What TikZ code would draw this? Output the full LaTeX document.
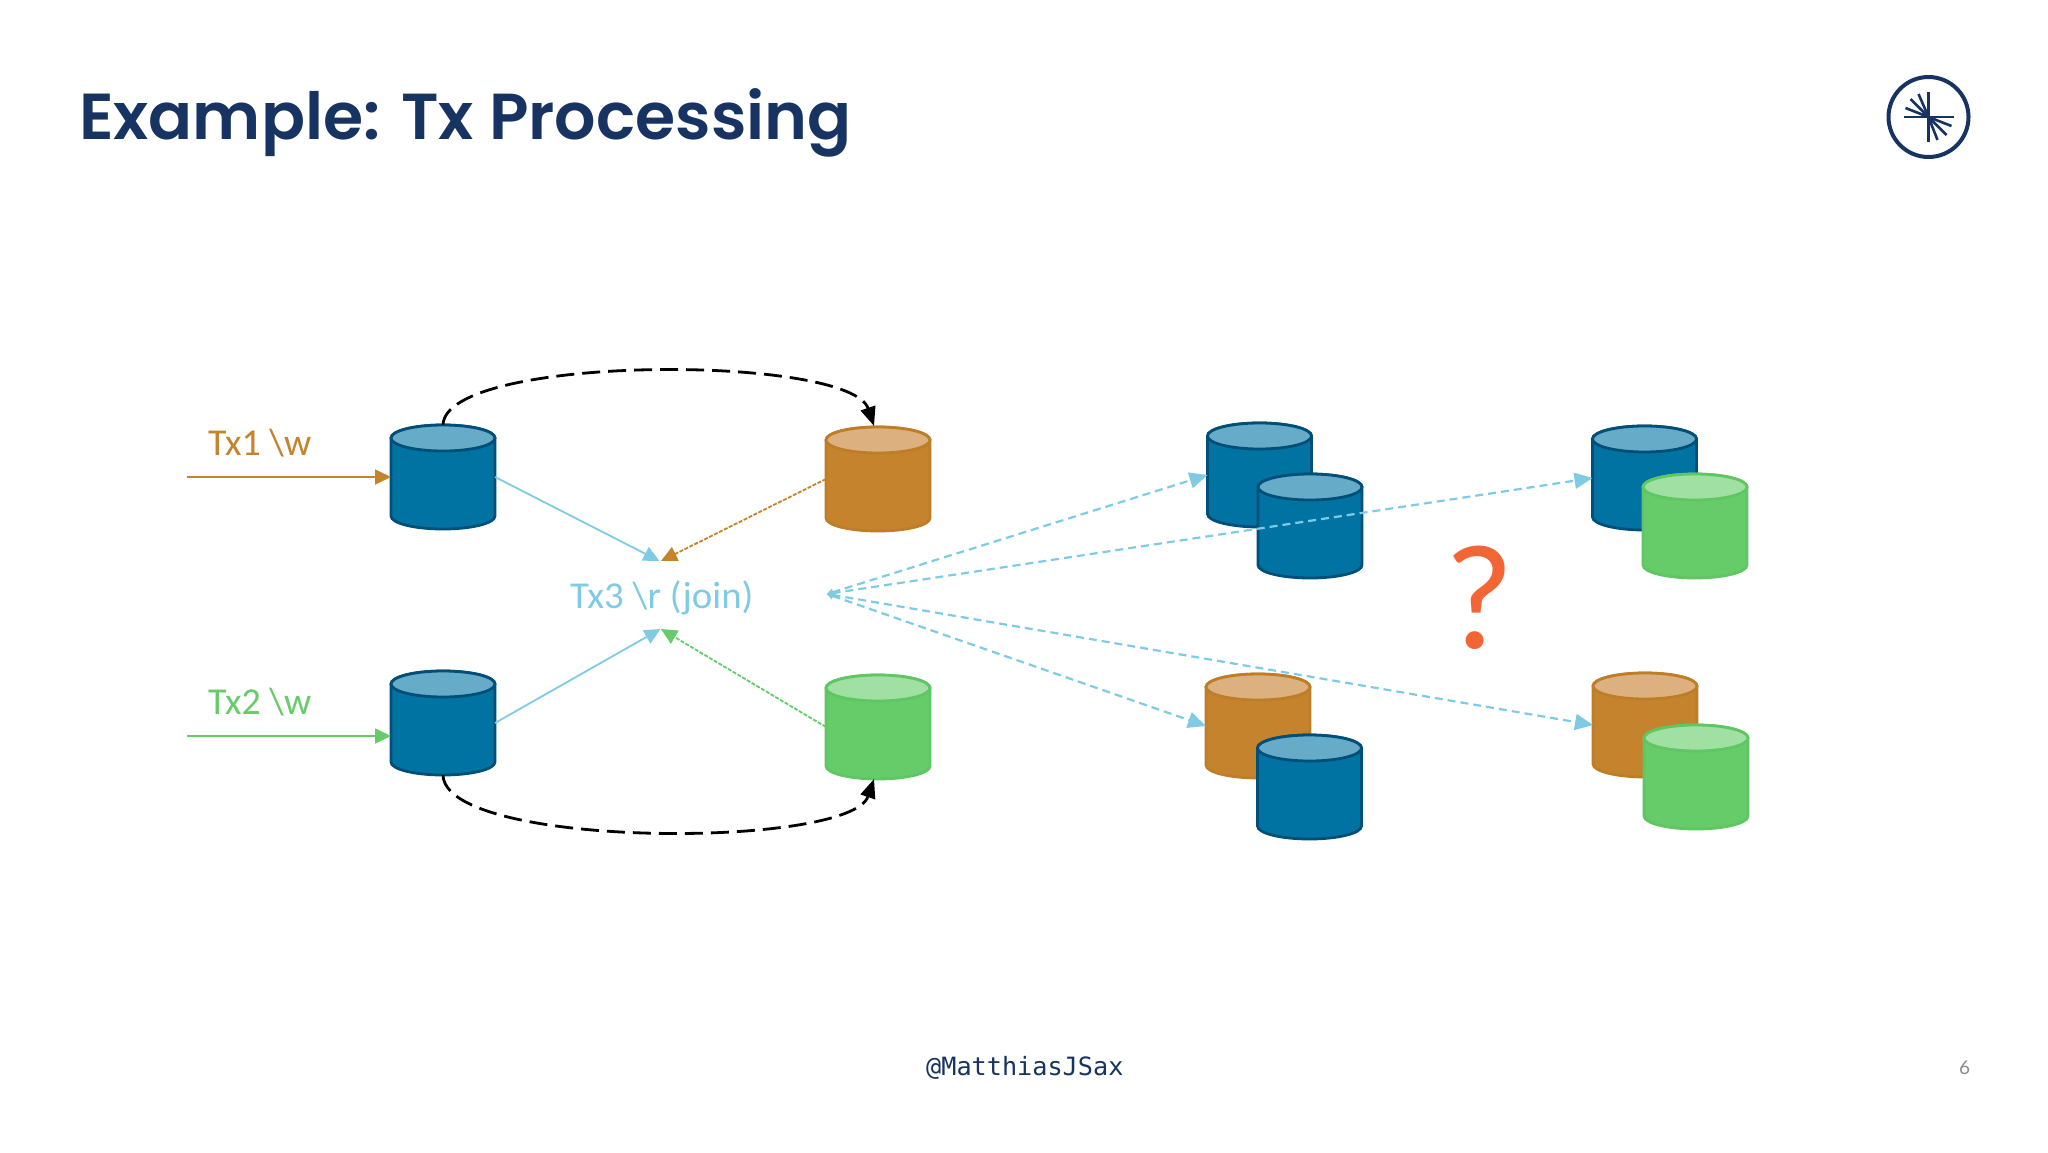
\documentclass[tikz,border=0pt]{standalone}
\usepackage{fontspec}
\usetikzlibrary{arrows.meta}
\newfontfamily\carlitofont{Carlito}
\newfontfamily\titlefont{Poppins SemiBold}
\newfontfamily\footfont{DejaVu Sans Mono}
\newfontfamily\pagefont{Lato}
\definecolor{navy}{HTML}{173361}
\definecolor{cblue}{HTML}{0073A3}
\definecolor{cblueline}{HTML}{004F78}
\definecolor{cbluetop}{HTML}{66ABC8}
\definecolor{corange}{HTML}{C4832C}
\definecolor{corangeline}{HTML}{BE7E28}
\definecolor{corangetop}{HTML}{DDB07F}
\definecolor{cgreen}{HTML}{66CC6A}
\definecolor{cgreenline}{HTML}{60C664}
\definecolor{cgreentop}{HTML}{A0E0A2}
\definecolor{lblue}{HTML}{7FCBE3}
\definecolor{qred}{HTML}{F26535}
\tikzset{
  pics/cyl/.style n args={3}{code={
    \node[minimum width=104pt,minimum height=104pt,inner sep=0pt,outer sep=0pt] (-box) at (52,52) {};
    \path[fill=#1,draw=#3,line width=2.8pt]
      (0,13) -- (0,91) .. controls (0,98.2) and (23.3,104) .. (52,104)
      .. controls (80.7,104) and (104,98.2) .. (104,91) -- (104,13)
      .. controls (104,5.8) and (80.7,0) .. (52,0)
      .. controls (23.3,0) and (0,5.8) .. (0,13) -- cycle;
    \path[fill=#2,draw=#3,line width=2.8pt]
      (0,13) .. controls (0,20.2) and (23.3,26) .. (52,26)
      .. controls (80.7,26) and (104,20.2) .. (104,13)
      .. controls (104,5.8) and (80.7,0) .. (52,0)
      .. controls (23.3,0) and (0,5.8) .. (0,13) -- cycle;
  }},
  head/.style={-{Triangle[length=16pt,width=15pt]}},
  solidarrow/.style={head,line width=1.8pt},
  fineflow/.style={head,line width=1.8pt,dash pattern=on 4pt off 1.5pt},
  fanflow/.style={{Triangle[length=6pt,width=7pt]}-{Triangle[length=18pt,width=16pt]},line width=2.2pt,color=lblue,dash pattern=on 8pt off 5pt},
  copyflow/.style={-{Triangle[length=19pt,width=15pt]},line width=2.8pt,black,dash pattern=on 18pt off 8pt},
  label/.style={inner sep=0pt,anchor=base west,font=\carlitofont\fontsize{38}{40}\selectfont},
}
\begin{document}
\begin{tikzpicture}[x=1pt,y=-1pt]
\path[fill=white,use as bounding box] (0,0) rectangle (2048,1152);
% title, logo, footer
\node[inner sep=0pt,anchor=base west,text=navy,font=\titlefont\fontsize{65}{70}\selectfont] (title) at (79,139) {Example: Tx Processing};
\node[circle,draw=navy,line width=4pt,minimum size=80pt,inner sep=0pt] (logo) at (1928.5,117) {};
\foreach \a/\b in {-25/0,25/0,0/-25,0/25,-23/-9,-18/-18,-10/-23,23/9,18/18,9/23}
  \draw[navy,line width=2.6pt] (logo.center) -- ++(\a,\b);
\node[inner sep=0pt,anchor=base west,text=navy,font=\footfont\fontsize{25.2}{28}\selectfont] (foot) at (926,1075) {@MatthiasJSax};
\node[inner sep=0pt,anchor=base west,text=black!45,font=\pagefont\fontsize{19}{22}\selectfont] (pageno) at (1959,1074) {6};
% left cylinders
\pic (a) at (391,425) {cyl={cblue}{cbluetop}{cblueline}};
\pic (b) at (826,427) {cyl={corange}{corangetop}{corangeline}};
\pic (c) at (391,671) {cyl={cblue}{cbluetop}{cblueline}};
\pic (d) at (826,675) {cyl={cgreen}{cgreentop}{cgreenline}};
% right cylinders
\pic (e) at (1207.5,423) {cyl={cblue}{cbluetop}{cblueline}};
\pic (f) at (1258,474) {cyl={cblue}{cbluetop}{cblueline}};
\pic (g) at (1592.5,426) {cyl={cblue}{cbluetop}{cblueline}};
\pic (h) at (1643,474) {cyl={cgreen}{cgreentop}{cgreenline}};
\pic (i) at (1206,674) {cyl={corange}{corangetop}{corangeline}};
\pic (j) at (1257.5,735) {cyl={cblue}{cbluetop}{cblueline}};
\pic (k) at (1593,673) {cyl={corange}{corangetop}{corangeline}};
\pic (l) at (1644,725) {cyl={cgreen}{cgreentop}{cgreenline}};
% labels
\node[label,text=corange] (tx1) at (208,455) {Tx1 \textbackslash w};
\node[label,text=cgreen] (tx2) at (208,714) {Tx2 \textbackslash w};
\node[label,text=lblue,xscale=1.02,transform shape] (tx3) at (570,608) {Tx3 \textbackslash r (join)};
\node[inner sep=0pt,anchor=base west,text=qred,font=\carlitofont\fontsize{150}{150}\selectfont] (q) at (1444.5,648) {?};
% free ends
\coordinate (s1) at (187,477);
\coordinate (s2) at (187,736);
\coordinate (c2) at (391,736);
\coordinate (j1) at (659.5,561);
\coordinate (j2) at (661,561);
\coordinate (j3) at (660.5,629);
\coordinate (j4) at (661,629);
\coordinate (fan) at (827,594);
\coordinate (bt) at (874,426);
\coordinate (dt) at (874,779);
% connectors
\draw[solidarrow,corange] (s1) -- (a-box.west);
\draw[solidarrow,cgreen] (s2) -- (c2);
\draw[solidarrow,lblue] (a-box.east) -- (j1);
\draw[solidarrow,lblue] (c-box.east) -- (j3);
\draw[fineflow,corange] (b-box.west) -- (j2);
\draw[fineflow,cgreen] (d-box.west) -- (j4);
\draw[copyflow] (a-box.north) .. controls (445,354) and (850,354) .. (bt);
\draw[copyflow] (c-box.south) .. controls (445,849) and (850,849) .. (dt);
\draw[fanflow] (fan) -- (e-box.west);
\draw[fanflow] (fan) -- (g-box.west);
\draw[fanflow] (fan) -- (i-box.west);
\draw[fanflow] (fan) -- (k-box.west);
\end{tikzpicture}
\end{document}
